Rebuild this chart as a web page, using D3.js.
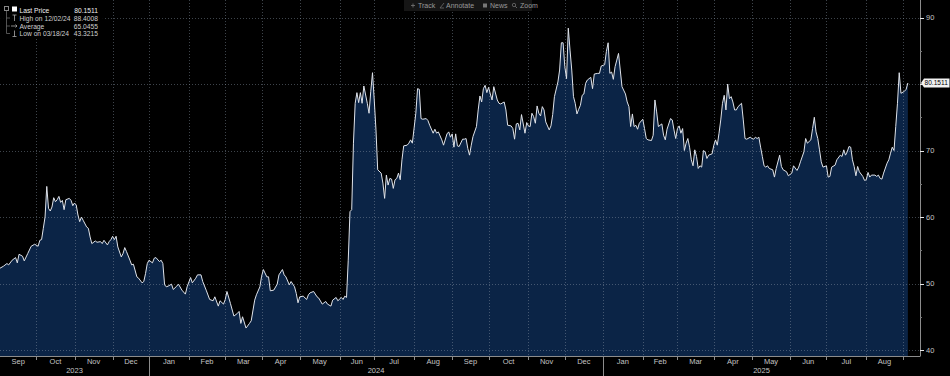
<!DOCTYPE html>
<html>
<head>
<meta charset="UTF-8">
<script src="https://d3js.org/d3.v7.min.js"></script>
<style>
  html, body { margin: 0; padding: 0; background: #000; }
  svg { display: block; font-family: "Liberation Sans", Arial, sans-serif; }
  .grid line { stroke: #8a96a6; stroke-opacity: 0.45; stroke-dasharray: 1,2; }
  .lbl { fill: #c4c4c4; font-size: 7.5px; }
</style>
</head>
<body>
<div id="chart"></div>
<script>
// trading day = weekday count from 2023-09-01
const tradingDay = [0,2,4,5,7,9,10,11,13,14,16,18,20,22,23,24,25,26,27,28,29,30,31,32,33,34,35,36,37,38,40,41,42,43,44,45,46,47,48,50,51,52,53,55,56,58,59,60,62,63,64,65,66,67,68,70,71,72,73,75,76,77,79,80,82,83,84,85,86,88,89,90,92,93,94,95,96,97,99,100,102,103,105,107,108,110,111,113,114,116,117,119,121,123,124,126,127,129,130,131,133,135,137,138,139,140,142,144,145,147,148,150,151,152,154,155,156,158,160,161,163,164,165,167,168,170,171,172,173,175,177,178,179,181,183,184,186,188,189,191,192,194,195,197,198,199,200,201,202,203,204,205,206,207,208,209,210,212,213,214,215,216,217,218,220,221,222,223,224,225,226,227,228,229,230,231,232,233,235,236,237,238,240,241,242,243,244,246,247,248,250,251,252,253,255,256,258,259,260,261,262,263,264,265,267,268,269,270,271,272,273,275,276,277,278,279,280,281,282,283,284,285,287,288,289,291,292,293,295,296,297,298,299,300,301,303,304,305,306,307,308,309,310,311,312,313,314,315,317,318,319,320,322,323,324,325,326,327,328,329,330,331,332,333,334,335,336,337,338,339,341,342,343,345,346,347,349,350,351,352,353,354,355,356,357,358,359,361,362,363,364,365,366,367,368,369,371,372,373,374,376,377,378,379,380,382,383,384,385,387,388,389,390,391,392,393,394,395,396,397,398,399,400,401,402,403,404,405,406,407,408,409,411,412,413,414,415,416,417,418,419,420,421,422,423,424,425,426,428,429,430,431,433,434,435,436,437,438,439,440,441,442,443,444,446,447,448,450,451,452,454,455,457,458,460,461,462,464,465,466,468,469,470,471,472,473,474,475,477,478,479,480,482,483,485,486,487,488,489,490,491,492,493,494,495,496,498,499,500,501,502,503,505,506,507,508,509,510,512,513,514,515,516,517,518,519,520,522,523,524];

const price = [52.3,52.6,53.0,52.8,53.5,53.9,53.1,54.4,54.1,53.4,54.5,55.6,55.9,55.6,56.5,56.6,58.3,60.0,64.6,61.3,60.9,61.5,62.9,62.3,62.6,63.1,62.2,62.5,61.1,62.6,62.8,62.5,61.7,62.1,61.8,60.3,59.3,60.0,59.5,58.5,58.3,57.0,56.0,56.4,56.2,56.3,56.0,56.5,55.8,56.3,56.6,57.1,56.6,57.1,55.5,54.0,54.5,55.4,54.8,53.5,52.8,52.9,51.0,50.8,50.1,50.3,51.5,53.0,53.5,53.1,53.8,53.9,53.3,53.5,53.0,49.8,49.5,49.6,49.9,49.1,49.6,49.9,49.0,48.4,49.5,50.9,50.1,50.8,51.3,51.3,50.3,49.0,47.6,47.4,48.0,46.6,47.4,46.9,47.6,48.8,47.0,45.1,45.5,45.8,44.0,45.0,43.3,44.0,44.4,47.5,48.3,49.5,51.1,52.1,51.0,51.0,48.9,49.0,49.9,51.3,52.1,51.3,51.0,49.8,50.3,49.5,48.5,47.1,48.0,48.1,47.6,48.3,48.6,48.8,48.0,47.8,46.9,47.3,46.9,46.6,47.5,47.9,47.4,47.9,47.6,48.1,47.9,53.5,60.8,61.1,71.1,77.1,78.7,77.2,78.7,77.1,79.7,77.1,75.6,78.9,81.7,77.6,73.1,67.1,66.6,65.1,62.8,66.3,64.8,65.8,65.7,64.3,65.6,65.8,66.6,65.6,68.6,70.7,70.8,71.1,71.6,71.1,75.6,79.3,79.2,74.8,74.7,74.8,74.5,73.8,72.6,73.2,72.6,72.8,71.6,70.8,72.5,72.8,72.0,72.5,70.5,72.5,70.7,70.6,71.7,71.7,71.8,70.3,69.3,70.8,72.1,73.6,76.1,78.2,77.3,79.3,79.8,78.7,79.5,78.5,77.6,79.6,77.6,77.1,77.0,77.3,76.1,73.8,73.7,73.3,71.7,74.0,74.1,73.1,75.4,72.6,74.2,73.7,73.6,75.6,75.1,74.1,76.7,75.6,75.2,76.6,76.1,74.3,73.1,73.7,75.4,78.1,80.3,82.1,86.2,86.2,82.6,80.8,88.4,85.1,82.1,78.1,77.1,75.5,76.2,76.8,78.3,78.5,80.1,80.6,81.0,79.3,81.5,81.6,81.6,82.7,82.9,84.9,86.2,81.6,81.8,80.7,82.6,83.6,84.6,82.1,79.6,78.5,77.3,76.6,73.6,75.5,73.6,73.8,73.2,74.1,74.7,73.3,71.8,71.6,71.5,72.3,77.6,75.8,73.6,74.0,72.3,71.6,73.2,74.8,74.6,73.1,71.8,73.3,73.7,72.6,73.3,70.0,71.1,71.8,70.5,68.6,67.7,70.1,69.1,67.3,67.7,67.5,70.0,69.8,68.8,69.3,69.5,70.8,71.6,70.8,72.6,74.6,77.1,78.3,76.1,80.0,77.8,78.1,77.3,76.1,76.1,76.6,77.1,74.6,71.8,71.7,72.0,71.8,71.7,72.0,71.8,72.0,70.5,69.1,67.7,67.5,67.7,67.3,67.1,66.0,67.3,69.3,67.6,67.1,66.8,66.2,66.6,67.7,67.0,67.5,68.3,69.8,71.8,71.1,71.6,73.3,75.0,72.8,71.8,70.1,68.3,67.5,67.7,66.0,66.1,67.5,67.8,68.6,69.3,69.1,70.1,69.3,69.8,70.6,70.5,68.6,67.6,66.2,67.6,66.8,66.1,65.5,65.6,66.7,66.0,66.3,66.3,66.1,66.3,65.8,65.7,66.6,68.1,68.6,69.6,70.5,70.0,73.6,77.1,81.7,78.6,78.9,79.2,80.1511];

const months = ["Sep","Oct","Nov","Dec","Jan","Feb","Mar","Apr","May","Jun","Jul","Aug","Sep","Oct","Nov","Dec","Jan","Feb","Mar","Apr","May","Jun","Jul","Aug"];
const years = ["2023","2024","2025"];
const yTicks = [40,50,60,70,80,90];

const legendNames = ["Last Price","High on 12/02/24","Average","Low on 03/18/24"];
const legendValues = ["80.1511","88.4008","65.0455","43.3215"];
const lastPrice = 80.1511;
const toolbar = ["Track","Annotate","News","Zoom"];

const W = 950, H = 376;
const plot = { left: 0, right: 920, top: 0, bottom: 356 };

// weekday calendar for the axis
const start = new Date(2023, 8, 1);
const nDays = 531;
const cal = [];
for (let d = new Date(start); cal.length < nDays; d.setDate(d.getDate() + 1)) {
  if (d.getDay() !== 0 && d.getDay() !== 6) cal.push(new Date(d));
}
const monthStarts = cal.map((d, i) => (i === 0 || d.getMonth() !== cal[i - 1].getMonth()) ? i : -1).filter(i => i >= 0);
const yearStarts = monthStarts.filter(i => i === 0 || cal[i].getMonth() === 0);

const x = d3.scaleLinear().domain([0, nDays]).range([plot.left, plot.right]);
const y = d3.scaleLinear().domain([40, 90]).range([350, 17.5]);

const data = tradingDay.map((t, i) => ({ t, v: price[i] }));

const svg = d3.select("#chart").append("svg").attr("width", W).attr("height", H);
svg.append("rect").attr("width", W).attr("height", H).attr("fill", "#000");

svg.append("defs").append("clipPath").attr("id", "clip")
  .append("rect").attr("x", plot.left).attr("y", plot.top)
  .attr("width", plot.right - plot.left).attr("height", plot.bottom - plot.top);

const g = svg.append("g").attr("clip-path", "url(#clip)");

g.append("path").datum(data)
  .attr("fill", "#0b2446")
  .attr("d", d3.area().x(d => x(d.t)).y0(plot.bottom).y1(d => y(d.v)));

const grid = g.append("g").attr("class", "grid");
grid.selectAll(".h").data(yTicks).join("line")
  .attr("x1", plot.left).attr("x2", plot.right)
  .attr("y1", d => Math.round(y(d)) + 0.5).attr("y2", d => Math.round(y(d)) + 0.5);
grid.selectAll(".v").data(monthStarts.slice(1)).join("line")
  .attr("x1", d => Math.round(x(d)) + 0.5).attr("x2", d => Math.round(x(d)) + 0.5)
  .attr("y1", plot.top).attr("y2", plot.bottom);

g.append("path").datum(data)
  .attr("fill", "none").attr("stroke", "#dfe3ea").attr("stroke-width", 1)
  .attr("stroke-linejoin", "round")
  .attr("d", d3.line().x(d => x(d.t)).y(d => y(d.v)));

// right axis (80 label hidden behind the last price tag)
const ax = svg.append("g");
ax.append("line").attr("x1", plot.right + 0.5).attr("x2", plot.right + 0.5)
  .attr("y1", 0).attr("y2", plot.bottom + 0.5).attr("stroke", "#8c8c8c");
ax.selectAll(".minor").data(d3.range(40, 92, 5)).join("line")
  .attr("x1", plot.right).attr("x2", d => plot.right + (d % 10 === 0 ? 4 : 2))
  .attr("y1", d => Math.round(y(d)) + 0.5).attr("y2", d => Math.round(y(d)) + 0.5)
  .attr("stroke", d => d % 10 === 0 ? "#e6e6e6" : "#777");
ax.selectAll("text").data(yTicks.filter(v => Math.abs(y(v) - y(lastPrice)) > 8)).join("text")
  .attr("class", "lbl").attr("x", plot.right + 6).attr("y", d => y(d))
  .attr("dominant-baseline", "central").text(d => d);

// last price tag
const ly = y(lastPrice);
svg.append("path")
  .attr("d", `M${plot.right + 1},${ly} L${plot.right + 4},${ly - 4.5} H949.5 V${ly + 4.5} H${plot.right + 4} Z`)
  .attr("fill", "#f2f2f2");
svg.append("text").attr("x", plot.right + 4.5).attr("y", ly)
  .attr("dominant-baseline", "central").attr("font-size", "6.6px").attr("fill", "#000")
  .text(lastPrice.toFixed(4));

// bottom axis
const bx = svg.append("g");
bx.append("line").attr("x1", 0).attr("x2", plot.right).attr("y1", plot.bottom + 0.5).attr("y2", plot.bottom + 0.5)
  .attr("stroke", "#8c8c8c");
bx.selectAll(".tk").data(monthStarts.slice(1)).join("line")
  .attr("x1", d => Math.round(x(d)) + 0.5).attr("x2", d => Math.round(x(d)) + 0.5)
  .attr("y1", plot.bottom).attr("y2", plot.bottom + 4).attr("stroke", "#8c8c8c");
bx.selectAll(".ml").data(months).join("text")
  .attr("class", "lbl").attr("text-anchor", "middle")
  .attr("x", (d, i) => (x(monthStarts[i]) + x(monthStarts[i + 1])) / 2)
  .attr("y", 364).text(d => d);
const yearEdges = yearStarts.map(i => x(i)).concat([plot.right]);
bx.selectAll(".yl").data(years).join("text")
  .attr("class", "lbl").attr("text-anchor", "middle")
  .attr("x", (d, i) => (yearEdges[i] + yearEdges[i + 1]) / 2)
  .attr("y", 373).text(d => d);
bx.selectAll(".ys").data(yearStarts.slice(1)).join("line")
  .attr("x1", d => Math.round(x(d)) + 0.5).attr("x2", d => Math.round(x(d)) + 0.5)
  .attr("y1", plot.bottom).attr("y2", H).attr("stroke", "#8c8c8c");

// legend
const lg = svg.append("g");
lg.append("rect").attr("x", 0).attr("y", 0).attr("width", 103).attr("height", 39).attr("fill", "#000").attr("opacity", 0.9);
const rowY = [10, 18, 26, 33.5];
lg.append("rect").attr("x", 4.5).attr("y", 6.5).attr("width", 4).attr("height", 4).attr("fill", "none").attr("stroke", "#888");
lg.append("rect").attr("x", 12).attr("y", 6.5).attr("width", 5).attr("height", 5).attr("fill", "#fff");
lg.append("line").attr("x1", 6.5).attr("x2", 6.5).attr("y1", 11).attr("y2", rowY[3]).attr("stroke", "#777").attr("stroke-width", 0.7);
rowY.slice(1).forEach(ry => {
  lg.append("line").attr("x1", 6.5).attr("x2", 10).attr("y1", ry).attr("y2", ry).attr("stroke", "#777").attr("stroke-width", 0.7);
});
// high / average / low glyphs
lg.append("path").attr("d", `M12.5,${rowY[1] - 3} H16.5 M14.5,${rowY[1] - 3} V${rowY[1] + 3}`).attr("stroke", "#aaa").attr("stroke-width", 0.8).attr("fill", "none");
lg.append("path").attr("d", `M11,${rowY[2]} H17 M15.5,${rowY[2] - 1.5} L17,${rowY[2]} L15.5,${rowY[2] + 1.5}`).attr("stroke", "#aaa").attr("stroke-width", 0.8).attr("fill", "none");
lg.append("path").attr("d", `M14.5,${rowY[3] - 3} V${rowY[3] + 3} M12.5,${rowY[3] + 3} H16.5`).attr("stroke", "#aaa").attr("stroke-width", 0.8).attr("fill", "none");
lg.selectAll(".ln").data(legendNames).join("text")
  .attr("x", 19.5).attr("y", (d, i) => rowY[i]).attr("dominant-baseline", "central")
  .attr("font-size", "6.7px").attr("fill", (d, i) => i === 0 ? "#f0f0f0" : "#cfcfcf").text(d => d);
lg.selectAll(".lv").data(legendValues).join("text")
  .attr("x", 98).attr("y", (d, i) => rowY[i]).attr("dominant-baseline", "central").attr("text-anchor", "end")
  .attr("font-size", "6.7px").attr("fill", (d, i) => i === 0 ? "#f0f0f0" : "#cfcfcf").text(d => d);

// toolbar
const tb = svg.append("g");
tb.append("rect").attr("x", 404).attr("y", 0).attr("width", 128).attr("height", 11).attr("fill", "#161616");
const tbX = [418, 446, 490, 520];
tb.selectAll("text").data(toolbar).join("text")
  .attr("x", (d, i) => tbX[i]).attr("y", 5.5).attr("dominant-baseline", "central")
  .attr("font-size", "7px").attr("fill", "#9a9a9a").text(d => d);
tb.append("path").attr("d", "M411,5.5 H415 M413,3.5 V7.5").attr("stroke", "#777").attr("stroke-width", 0.8);
tb.append("path").attr("d", "M440,8 L444,3 M440,8 H444").attr("stroke", "#777").attr("stroke-width", 0.7).attr("fill", "none");
tb.append("rect").attr("x", 483).attr("y", 3.5).attr("width", 4).attr("height", 4).attr("fill", "#777");
tb.append("circle").attr("cx", 514).attr("cy", 5).attr("r", 1.7).attr("stroke", "#777").attr("stroke-width", 0.7).attr("fill", "none");
tb.append("path").attr("d", "M515.2,6.2 L517,8").attr("stroke", "#777").attr("stroke-width", 0.8);
</script>
</body>
</html>
